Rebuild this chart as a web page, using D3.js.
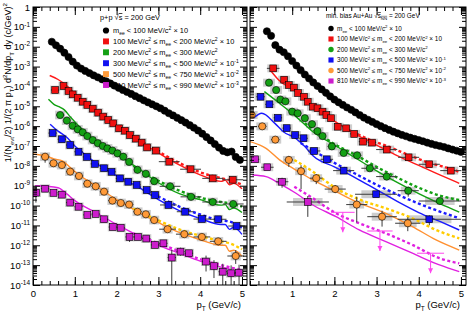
<!DOCTYPE html>
<html>
<head>
<meta charset="utf-8">
<script src="https://cdn.jsdelivr.net/npm/d3@7"></script>
<style>
  body { margin: 0; background: #fff; }
  svg { display: block; font-family: "Liberation Sans", Arial, sans-serif; }
</style>
</head>
<body>
<svg width="473" height="316"></svg>
<script>
// values are log10 of the yield; rows are [pT, log10(y), dx, errDown, errUp]
var ppBlack = [[0.45,-1.75],[0.55,-1.93],[0.65,-2.10],[0.75,-2.30],[0.85,-2.52],[0.95,-2.75],[1.05,-2.95],[1.15,-3.10],
  [1.25,-3.22],[1.35,-3.33],[1.45,-3.44],[1.55,-3.54],[1.65,-3.64],[1.75,-3.74],[1.85,-3.85],[1.95,-3.96],[2.05,-4.07],
  [2.15,-4.18],[2.25,-4.28],[2.35,-4.38],[2.45,-4.49],[2.55,-4.59],[2.65,-4.70],[2.75,-4.80],[2.85,-4.90],[2.95,-5.00],
  [3.05,-5.10],[3.15,-5.22],[3.25,-5.35],[3.35,-5.46],[3.45,-5.58],[3.55,-5.70],[3.65,-5.82],[3.75,-5.95],[3.85,-6.08],
  [3.95,-6.22],[4.05,-6.38],[4.15,-6.55],[4.25,-6.72],[4.35,-6.90],[4.45,-7.08],[4.55,-7.25],[4.65,-7.32],[4.75,-7.28],
  [4.85,-7.55],[4.95,-7.70]];
var ppRed = [[0.53,-4.18,0.1,0.15,0.12],[0.73,-3.98],[0.85,-4.23],[0.95,-4.40],[1.07,-4.57],[1.19,-4.77],[1.3,-4.93],
  [1.43,-5.12],[1.56,-5.32],[1.68,-5.52],[1.8,-5.69],[1.92,-5.86],[2.06,-6.11],[2.2,-6.23],[2.32,-6.45],[2.46,-6.63],
  [2.6,-6.83],[2.73,-7.07],[2.94,-7.23,0.1],[3.26,-7.79,0.25],[3.77,-8.17,0.25],[4.3,-8.63,0.25],[4.78,-8.7,0.25]];
var ppGreen = [[0.65,-5.44,0.1,0.12,0.1],[0.81,-5.72],[0.95,-5.98],[1.07,-6.16],[1.19,-6.31],[1.3,-6.5],[1.43,-6.7],
  [1.55,-6.86],[1.67,-7.0],[1.78,-7.12],[1.9,-7.23],[2.02,-7.37],[2.16,-7.54],[2.3,-7.8],[2.5,-8.2],[2.7,-8.4],
  [2.9,-8.77,0.1],[3.28,-9.03,0.25],[3.78,-9.56,0.25],[4.3,-9.82,0.25],[4.79,-9.92,0.25]];
var ppBlue = [[0.47,-6.35,0.1],[0.69,-6.66,0.1],[0.89,-6.95,0.1],[1.09,-7.29,0.1],[1.29,-7.55,0.1],[1.48,-7.9,0.1],
  [1.7,-8.12,0.1],[1.88,-8.3,0.1],[2.08,-8.63,0.1],[2.28,-8.8,0.1],[2.48,-8.96,0.1],[2.72,-9.22,0.1],[2.92,-9.47,0.1],
  [3.24,-9.97,0.2],[3.64,-10.31,0.2],[4.04,-10.68,0.2],[4.43,-10.69,0.2],[4.87,-11.03,0.2]];
var ppOrange = [[0.29,-7.54,0.1,0.3,0.15],[0.49,-7.87,0.1],[0.69,-7.96,0.1],[0.89,-8.29,0.1],[1.1,-8.51,0.1],[1.3,-8.9,0.1],
  [1.5,-9.03,0.1],[1.7,-9.3,0.1],[1.9,-9.75,0.1],[2.1,-9.87,0.1],[2.3,-9.95,0.1],[2.5,-10.31,0.1],[2.7,-10.44,0.1],
  [2.9,-10.73,0.1],[3.22,-11.19,0.2],[3.62,-11.44,0.2],[4.04,-11.58,0.2],[4.43,-11.8,0.2,0.2,0.15],[4.85,-12.54,0.2,0.4,0.3]];
var ppMagenta = [[0.07,-9.35,0.05,0.5,0.3],[0.29,-9.15,0.1],[0.49,-9.36,0.1],[0.69,-9.45,0.1],[0.89,-9.85,0.1],
  [1.09,-10.06,0.1],[1.3,-10.47,0.1],[1.5,-10.42,0.1],[1.7,-10.69,0.1],[1.91,-11.08,0.1],[2.1,-11.12,0.1],
  [2.31,-11.58,0.1,0.25,0.15],[2.51,-11.58,0.1],[2.71,-11.66,0.1],[2.92,-11.98,0.1],[3.12,-11.9,0.1],
  [3.32,-12.62,0.1,1.5,0.4],[3.53,-12.32,0.1,0.2,0.2],[3.73,-12.4,0.1],[4.14,-12.82,0.1,0.5,0.3],
  [4.33,-13.05,0.1,0.6,0.3],[4.54,-13.33,0.1,0.8,0.4],[4.74,-13.41,0.1,0.6,0.4],[4.93,-13.38,0.1,0.7,0.4]];

var aaBlack = [[0.4,-1.22],[0.5,-1.45],[0.6,-1.92],[0.7,-2.15],[0.8,-2.28],[0.9,-2.48],[1.0,-2.72],[1.1,-2.95],[1.2,-3.18],
  [1.3,-3.40],[1.4,-3.60],[1.5,-3.80],[1.6,-3.98],[1.7,-4.15],[1.8,-4.32],[1.9,-4.50],[2.0,-4.66],[2.1,-4.80],[2.2,-4.93],
  [2.3,-5.06],[2.4,-5.18],[2.5,-5.31],[2.6,-5.44],[2.7,-5.57],[2.8,-5.68],[2.9,-5.79],[3.0,-5.90],[3.1,-6.00],[3.2,-6.10],
  [3.3,-6.19],[3.4,-6.28],[3.5,-6.36],[3.6,-6.44],[3.7,-6.51],[3.8,-6.58],[3.9,-6.64],[4.0,-6.70],[4.1,-6.76],[4.2,-6.83],
  [4.3,-6.89],[4.4,-6.95],[4.5,-7.00],[4.6,-7.05],[4.7,-7.12],[4.8,-7.18],[4.9,-7.24],[5.0,-7.30]];
var aaRed = [[0.55,-3.09,0.15],[0.81,-3.66],[0.92,-3.93],[1.04,-4.06],[1.14,-4.33],[1.28,-4.52],[1.37,-4.77],[1.49,-5.02],
  [1.6,-5.10],[1.72,-5.27],[1.81,-5.44],[1.92,-5.60],[2.08,-6.03],[2.28,-6.11],[2.47,-6.39,0.1],[2.68,-6.78,0.1],
  [2.89,-6.83,0.1],[3.24,-7.18,0.25],[3.76,-7.57,0.25],[4.25,-7.92,0.25],[4.76,-8.24,0.25]];
var aaGreen = [[0.45,-3.81],[0.62,-4.18],[0.72,-4.66],[0.84,-4.75],[1.0,-5.27],[1.13,-5.35],[1.3,-5.6],[1.47,-5.9],
  [1.6,-6.25],[1.72,-6.5],[1.94,-7.02,0.1],[2.22,-7.35,0.1],[2.54,-7.47,0.1],[2.84,-8.12,0.2],[3.24,-8.54,0.25],
  [3.75,-9.25,0.25,0.3,0.2],[4.5,-9.77,0.5]];
var aaBlue = [[0.25,-4.52,0.1],[0.46,-4.9,0.1],[0.66,-5.58,0.1],[0.87,-6.1,0.1],[1.07,-6.45,0.1],[1.27,-6.61,0.1],
  [1.52,-7.25,0.15],[1.82,-7.67,0.15],[2.22,-8.24,0.25],[2.99,-9.43,0.5],[4.25,-10.69,0.75,0.3,0.2]];
var aaOrange = [[0.04,-5.44,0.05],[0.29,-6.01,0.1],[0.6,-6.68,0.1],[0.92,-7.7,0.1,0.35,0.2],[1.21,-8.27,0.1,0.9,0.3],
  [1.57,-8.62,0.15,0.3,0.2],[2.02,-9.17,0.25,0.2,0.2],[2.53,-9.95,0.25,0.9,0.4],[3.13,-10.56,0.35,0.5,0.3],
  [3.74,-10.89,0.3,0.4,0.3]];
var aaMagenta = [[0.12,-7.67,0.1],[0.41,-8.07,0.15],[0.76,-8.8,0.15,0.3,0.2],[1.37,-9.82,0.5,0.75,0.3]];
var aaMagentaLimits = [[2.2,-10.34,0.28],[3.08,-11.28,0.3],[4.28,-12.40,0.32]];

// cocktail curves, [pT, log10(y)]
var ppRedSolid = [[0.4,-3.45],[0.6,-3.65],[0.8,-3.95],[1.0,-4.35],[1.2,-4.72],[1.5,-5.2],[2.0,-5.98],[2.5,-6.72],[3.0,-7.35],
  [3.5,-7.95],[4.0,-8.45],[4.5,-8.78],[4.6,-8.72],[4.7,-8.95],[4.8,-8.88],[5.0,-9.15]];
var ppRedDot = [[2.4,-6.5],[3.0,-7.28],[3.5,-7.85],[4.0,-8.32],[4.5,-8.62],[4.7,-8.72],[5.0,-8.95]];
var ppGreenSolid = [[0.37,-4.65],[0.5,-4.9],[0.62,-5.02],[0.75,-5.18],[0.9,-5.55],[1.1,-6.0],[1.5,-6.75],[2.0,-7.42],
  [2.5,-8.1],[3.0,-8.85],[3.5,-9.4],[4.0,-9.7],[4.5,-9.98],[4.6,-9.95],[4.7,-10.2],[4.8,-10.12],[5.0,-10.35]];
var ppGreenDot = [[2.4,-8.0],[3.0,-8.75],[3.5,-9.25],[4.0,-9.6],[4.5,-9.82],[4.7,-9.88],[5.0,-10.05]];
var ppBlueSolid = [[0.41,-5.9],[0.6,-6.25],[0.8,-6.55],[1.0,-7.0],[1.2,-7.35],[1.5,-7.85],[2.0,-8.5],[2.5,-9.05],[3.0,-9.7],
  [3.5,-10.25],[4.0,-10.65],[4.5,-10.95],[4.6,-10.95],[4.7,-11.2],[4.8,-11.1],[5.0,-11.45]];
var ppBlueDot = [[2.4,-8.9],[3.0,-9.55],[3.5,-10.05],[4.0,-10.45],[4.5,-10.75],[4.7,-10.8],[5.0,-11.1]];
var ppOrangeSolid = [[0.0,-7.4],[0.3,-7.5],[0.5,-7.65],[0.7,-7.75],[0.9,-8.1],[1.1,-8.45],[1.5,-9.0],[2.0,-9.7],[2.5,-10.3],
  [3.0,-10.85],[3.5,-11.35],[4.0,-11.72],[4.5,-12.0],[4.6,-12.0],[4.7,-12.3],[4.8,-12.25],[5.0,-12.55]];
var ppYellowDot = [[2.4,-10.15],[3.0,-10.75],[3.5,-11.2],[4.0,-11.52],[4.5,-11.8],[4.7,-11.9],[5.0,-12.2]];
var ppMagentaSolid = [[0.05,-9.0],[0.6,-9.1],[0.8,-9.4],[1.0,-9.75],[1.5,-10.35],[2.0,-10.95],[2.5,-11.5],[3.0,-12.0],
  [3.5,-12.4],[4.0,-12.8],[4.5,-13.1],[4.7,-13.2],[4.8,-13.35],[5.0,-13.5]];
var ppMagentaDot = [[2.4,-11.4],[3.0,-11.9],[3.5,-12.3],[4.0,-12.7],[4.5,-13.0],[5.0,-13.25]];

var aaRedSolid = [[0.51,-3.26],[0.7,-3.72],[1.09,-4.26],[1.3,-4.68],[1.49,-4.95],[1.78,-5.44],[2.0,-5.75],[2.5,-6.4],
  [3.0,-6.95],[3.5,-7.5],[4.0,-7.98],[4.5,-8.45],[4.96,-8.88]];
var aaRedDot = [[2.2,-6.05],[2.8,-6.65],[3.24,-7.0],[3.76,-7.45],[4.25,-7.85],[4.76,-8.15],[4.96,-8.3]];
var aaGreenSolid = [[0.34,-4.26],[0.7,-4.85],[1.09,-5.52],[1.49,-6.28],[2.0,-6.95],[2.5,-7.6],[3.0,-8.25],[3.5,-8.85],
  [4.0,-9.4],[4.5,-9.9],[4.96,-10.33]];
var aaGreenDot = [[1.3,-5.85],[2.0,-6.9],[2.5,-7.45],[3.0,-8.05],[3.5,-8.6],[4.0,-9.1],[4.5,-9.5],[4.96,-9.72]];
var aaBlueSolid = [[0.08,-5.6],[0.28,-5.35],[0.59,-5.86],[0.79,-6.28],[1.07,-6.6],[1.3,-7.03],[1.5,-7.5],[2.0,-8.05],
  [2.5,-8.6],[3.0,-9.2],[3.5,-9.8],[4.0,-10.35],[4.5,-10.8],[4.96,-11.23]];
var aaBlueDot = [[1.2,-6.85],[1.6,-7.35],[2.0,-7.85],[2.5,-8.4],[3.0,-8.95],[3.5,-9.45],[4.0,-9.9],[4.5,-10.3],[4.96,-10.64]];
var aaOrangeSolid = [[0.0,-6.78],[0.38,-7.12],[0.7,-7.7],[1.09,-8.21],[1.49,-8.71],[2.04,-9.3],[2.51,-9.8],[3.22,-10.39],
  [3.85,-11.06],[4.41,-11.73],[4.96,-12.24]];
var aaYellowDot = [[1.05,-7.7],[1.49,-8.29],[2.04,-9.13],[2.6,-9.7],[3.22,-10.14],[3.85,-10.64],[4.41,-11.23],[4.96,-11.65]];
var aaMagentaSolid = [[0.06,-8.46],[0.38,-8.54],[0.69,-8.88],[1.09,-9.38],[1.49,-9.97],[2.04,-10.56],[2.59,-11.23],
  [3.22,-11.82],[3.85,-12.4],[4.49,-12.99],[4.96,-13.33]];
var aaMagentaDot = [[1.05,-9.05],[1.49,-9.63],[2.04,-10.39],[2.59,-10.89],[3.22,-11.4],[3.85,-11.98],[4.49,-12.65],[4.96,-12.91]];

var xMajor = [0, 1, 2, 3, 4, 5];
var decades = d3.range(-14, 1);

var legendLabels = [
  ["m", ["ee","sub"], " < 100 MeV/c", ["2","sup"], " \u00d7 10"],
  ["100 MeV/c", ["2","sup"], " \u2264 m", ["ee","sub"], " < 200 MeV/c", ["2","sup"], " \u00d7 10"],
  ["200 MeV/c", ["2","sup"], " \u2264 m", ["ee","sub"], " < 300 MeV/c", ["2","sup"]],
  ["300 MeV/c", ["2","sup"], " \u2264 m", ["ee","sub"], " < 500 MeV/c", ["2","sup"], " \u00d7 10", ["-1","sup"]],
  ["500 MeV/c", ["2","sup"], " \u2264 m", ["ee","sub"], " < 750 MeV/c", ["2","sup"], " \u00d7 10", ["-2","sup"]],
  ["810 MeV/c", ["2","sup"], " \u2264 m", ["ee","sub"], " < 990 MeV/c", ["2","sup"], " \u00d7 10", ["-3","sup"]]
];

var col = {black: "#000", red: "#f01010", green: "#14a014", blue: "#1010f0", orange: "#ff9a38", magenta: "#cc1ccc"};
var lineCol = {red: "#ff1a1a", green: "#12a012", blue: "#1a1aff", orange: "#ff9030", yellow: "#ffcc00", magenta: "#e020e0"};

var svg = d3.select("svg");
var top0 = 7, bottom0 = 285;

function rich(t, parts, fs) {
  var off = 0;
  parts.forEach(function(p) {
    var s = typeof p === "string" ? [p, ""] : p;
    var target = s[1] === "sup" ? -fs * 0.4 : s[1] === "sub" ? fs * 0.3 : 0;
    var ts = t.append("tspan").attr("dy", target - off).attr("font-size", s[1] ? fs * 0.68 : fs).text(s[0]);
    if (s[2]) ts.style("text-decoration", "overline");
    off = target;
  });
}

function drawPanel(o) {
  var x = d3.scaleLinear().domain([0, 5.12]).range([o.x0, o.x1]),
      y = d3.scaleLog().domain([1e-14, 1]).range([bottom0, top0]);
  var p = function(v) { return y(Math.pow(10, v)); };
  var g = svg.append("g");

  g.append("clipPath").attr("id", o.id).append("rect")
    .attr("x", o.x0).attr("y", top0).attr("width", o.x1 - o.x0).attr("height", bottom0 - top0);
  g.append("clipPath").attr("id", o.id + "z").append("rect")
    .attr("x", o.x0 - 1).attr("y", bottom0).attr("width", 20).attr("height", 20);
  var plot = g.append("g").attr("clip-path", "url(#" + o.id + ")");

  // systematic boxes
  o.series.forEach(function(s) {
    plot.selectAll(null).data(s.data).enter().append("rect")
      .attr("x", function(d) { return x(d[0] - Math.max(o.boxW, (d[2] || 0) * o.boxScale)); })
      .attr("width", function(d) { var w = Math.max(o.boxW, (d[2] || 0) * o.boxScale); return x(d[0] + w) - x(d[0] - w); })
      .attr("y", function(d) { return p(d[1] + o.boxH); })
      .attr("height", function(d) { return p(d[1] - o.boxH) - p(d[1] + o.boxH); })
      .attr("fill", s.noBox ? "none" : "#cdcdcd");
  });

  // cocktail lines
  var line = d3.line().x(function(d) { return x(d[0]); }).y(function(d) { return p(d[1]); }).curve(d3.curveMonotoneX);
  o.lines.forEach(function(l) {
    plot.append("path").datum(l.data).attr("d", line).attr("fill", "none")
      .attr("stroke", l.color).attr("stroke-width", l.dot ? 2.4 : 1.4)
      .attr("stroke-dasharray", l.dot ? "3,2.5" : null);
  });

  // error bars
  o.series.forEach(function(s) {
    var eb = plot.append("g").attr("stroke", "#3a3a3a").attr("stroke-width", 1);
    s.data.forEach(function(d) {
      if (d[2]) eb.append("line").attr("x1", x(d[0] - d[2])).attr("x2", x(d[0] + d[2])).attr("y1", p(d[1])).attr("y2", p(d[1]));
      if (d[3]) eb.append("line").attr("x1", x(d[0])).attr("x2", x(d[0])).attr("y1", p(d[1] - d[3])).attr("y2", p(d[1] + d[4]));
    });
  });

  // upper limits
  (o.limits || []).forEach(function(d) {
    var lg = plot.append("g").attr("stroke", "#ff44ee").attr("stroke-width", 1).attr("fill", "#ff44ee");
    lg.append("line").attr("x1", x(d[0] - d[2])).attr("x2", x(d[0] + d[2])).attr("y1", p(d[1])).attr("y2", p(d[1]));
    var yb = p(d[1]) + 20;
    lg.append("line").attr("x1", x(d[0])).attr("x2", x(d[0])).attr("y1", p(d[1])).attr("y2", yb);
    lg.append("path").attr("stroke", "none")
      .attr("d", "M" + (x(d[0]) - 2.5) + "," + (yb - 5) + "L" + (x(d[0]) + 2.5) + "," + (yb - 5) + "L" + x(d[0]) + "," + yb + "Z");
  });

  // markers
  o.series.forEach(function(s) {
    var sel = plot.selectAll(null).data(s.data).enter();
    if (s.shape === "circle") {
      sel.append("circle").attr("cx", function(d) { return x(d[0]); }).attr("cy", function(d) { return p(d[1]); })
        .attr("r", 3.6).attr("fill", s.color).attr("stroke", "#000").attr("stroke-width", 0.6);
    } else {
      sel.append("rect").attr("x", function(d) { return x(d[0]) - 3.4; }).attr("y", function(d) { return p(d[1]) - 3.4; })
        .attr("width", 6.8).attr("height", 6.8).attr("fill", s.color).attr("stroke", "#000").attr("stroke-width", 0.6);
    }
  });

  // axes and frame
  var minorX = d3.range(0, 5.11, 0.2);
  var minorY = [];
  decades.forEach(function(e) { if (e < 0) for (var k = 2; k < 10; k++) minorY.push(k * Math.pow(10, e)); });
  var majorY = decades.map(function(e) { return Math.pow(10, e); });
  var clean = function(a) { a.select(".domain").remove(); a.selectAll("line").attr("stroke", "#000"); };

  g.append("g").attr("transform", "translate(0," + bottom0 + ")")
    .call(d3.axisBottom(x).tickValues(minorX).tickSize(-4).tickFormat("")).call(clean);
  g.append("g").attr("transform", "translate(0," + top0 + ")")
    .call(d3.axisTop(x).tickValues(minorX).tickSize(-4).tickFormat("")).call(clean);
  g.append("g").attr("transform", "translate(0," + top0 + ")")
    .call(d3.axisTop(x).tickValues(xMajor).tickSize(-8).tickFormat("")).call(clean);
  var xa = g.append("g").attr("transform", "translate(0," + bottom0 + ")")
    .call(d3.axisBottom(x).tickValues(xMajor).tickSize(-8).tickPadding(5).tickFormat(d3.format("d"))).call(clean);
  xa.selectAll("text").attr("font-size", 9.5).attr("font-family", "Liberation Sans, Arial, sans-serif").attr("fill", "#000");
  if (o.clipZero) xa.selectAll(".tick").filter(function(d) { return d === 0; }).attr("clip-path", "url(#" + o.id + "z)");

  [[d3.axisLeft, o.x0], [d3.axisRight, o.x1]].forEach(function(a) {
    g.append("g").attr("transform", "translate(" + a[1] + ",0)")
      .call(a[0](y).tickValues(minorY).tickSize(-4).tickFormat("")).call(clean);
    g.append("g").attr("transform", "translate(" + a[1] + ",0)")
      .call(a[0](y).tickValues(majorY).tickSize(-7).tickFormat("")).call(clean);
  });

  if (o.yLabels) {
    var ya = g.append("g").attr("font-size", 9.5).attr("text-anchor", "end");
    decades.forEach(function(e) {
      var t = ya.append("text").attr("x", o.x0 - 3).attr("y", y(Math.pow(10, e)) + 3.5);
      if (e === 0) t.text("1"); else rich(t, ["10", [String(e), "sup"]], 9.5);
    });
  }

  g.append("rect").attr("x", o.x0).attr("y", top0).attr("width", o.x1 - o.x0).attr("height", bottom0 - top0)
    .attr("fill", "none").attr("stroke", "#000").attr("stroke-width", 1);

  rich(g.append("text").attr("x", o.x1 - 6).attr("y", 308).attr("text-anchor", "end"),
    ["p", ["T", "sub"], " (GeV/c)"], 9.5);

  // legend
  var lgd = g.append("g").attr("clip-path", "url(#" + o.id + ")");
  var tt = lgd.append("text").attr("x", o.titleX).attr("y", o.titleY);
  rich(tt, o.title, o.fs);
  o.series.forEach(function(s, i) {
    var ly = o.legY + i * o.legDy;
    if (o.legShapes[i] === "circle")
      lgd.append("circle").attr("cx", o.legX).attr("cy", ly).attr("r", o.fs * 0.42).attr("fill", s.color);
    else
      lgd.append("rect").attr("x", o.legX - o.fs * 0.4).attr("y", ly - o.fs * 0.4).attr("width", o.fs * 0.8)
        .attr("height", o.fs * 0.8).attr("fill", s.color);
    rich(lgd.append("text").attr("x", o.legX + o.fs * 0.95).attr("y", ly + o.fs * 0.36), legendLabels[i], o.fs);
  });
  return {x: x, y: y};
}

drawPanel({
  id: "cr", x0: 250, x1: 466, boxW: 0.14, boxScale: 0.7, boxH: 0.2, clipZero: true,
  series: [
    {data: aaBlack, color: col.black, shape: "circle", noBox: true},
    {data: aaRed, color: col.red, shape: "square"},
    {data: aaGreen, color: col.green, shape: "circle"},
    {data: aaBlue, color: col.blue, shape: "square"},
    {data: aaOrange, color: col.orange, shape: "circle"},
    {data: aaMagenta, color: col.magenta, shape: "square"}
  ],
  lines: [
    {data: aaRedSolid, color: lineCol.red}, {data: aaRedDot, color: lineCol.red, dot: true},
    {data: aaGreenSolid, color: lineCol.green}, {data: aaGreenDot, color: lineCol.green, dot: true},
    {data: aaBlueSolid, color: lineCol.blue}, {data: aaBlueDot, color: lineCol.blue, dot: true},
    {data: aaOrangeSolid, color: lineCol.orange}, {data: aaYellowDot, color: lineCol.yellow, dot: true},
    {data: aaMagentaSolid, color: lineCol.magenta}, {data: aaMagentaDot, color: lineCol.magenta, dot: true}
  ],
  limits: aaMagentaLimits,
  title: ["min. bias Au+Au \u221a", ["s", "", 1], ["NN", "sub", 1], " = 200 GeV"], titleX: 326, titleY: 18,
  fs: 6.4, legX: 331, legY: 28.5, legDy: 10.5,
  legShapes: ["circle", "square", "circle", "square", "circle", "square"]
});

drawPanel({
  id: "cl", x0: 33, x1: 247, boxW: 0.12, boxScale: 0, boxH: 0.22, yLabels: true,
  series: [
    {data: ppBlack, color: col.black, shape: "circle", noBox: true},
    {data: ppRed, color: col.red, shape: "square"},
    {data: ppGreen, color: col.green, shape: "circle"},
    {data: ppBlue, color: col.blue, shape: "square"},
    {data: ppOrange, color: col.orange, shape: "circle"},
    {data: ppMagenta, color: col.magenta, shape: "square"}
  ],
  lines: [
    {data: ppRedSolid, color: lineCol.red}, {data: ppRedDot, color: lineCol.red, dot: true},
    {data: ppGreenSolid, color: lineCol.green}, {data: ppGreenDot, color: lineCol.green, dot: true},
    {data: ppBlueSolid, color: lineCol.blue}, {data: ppBlueDot, color: lineCol.blue, dot: true},
    {data: ppOrangeSolid, color: lineCol.orange}, {data: ppYellowDot, color: lineCol.yellow, dot: true},
    {data: ppMagentaSolid, color: lineCol.magenta}, {data: ppMagentaDot, color: lineCol.magenta, dot: true}
  ],
  title: ["p+p \u221a", ["s", "", 1], " = 200 GeV"], titleX: 100, titleY: 20,
  fs: 7.4, legX: 106, legY: 30.5, legDy: 10.9,
  legShapes: ["circle", "square", "square", "square", "square", "square"]
});

// y title
var yt = svg.append("text").attr("transform", "translate(11,3) rotate(-90)").attr("text-anchor", "end");
rich(yt, ["1/(N", ["evt", "sub"], "/2) 1/(2 \u03c0 p", ["T", "sub"], ") d", ["2", "sup"], "N/dp", ["T", "sub"],
  " dy (c/GeV)", ["2", "sup"]], 9);
</script>
</body>
</html>
